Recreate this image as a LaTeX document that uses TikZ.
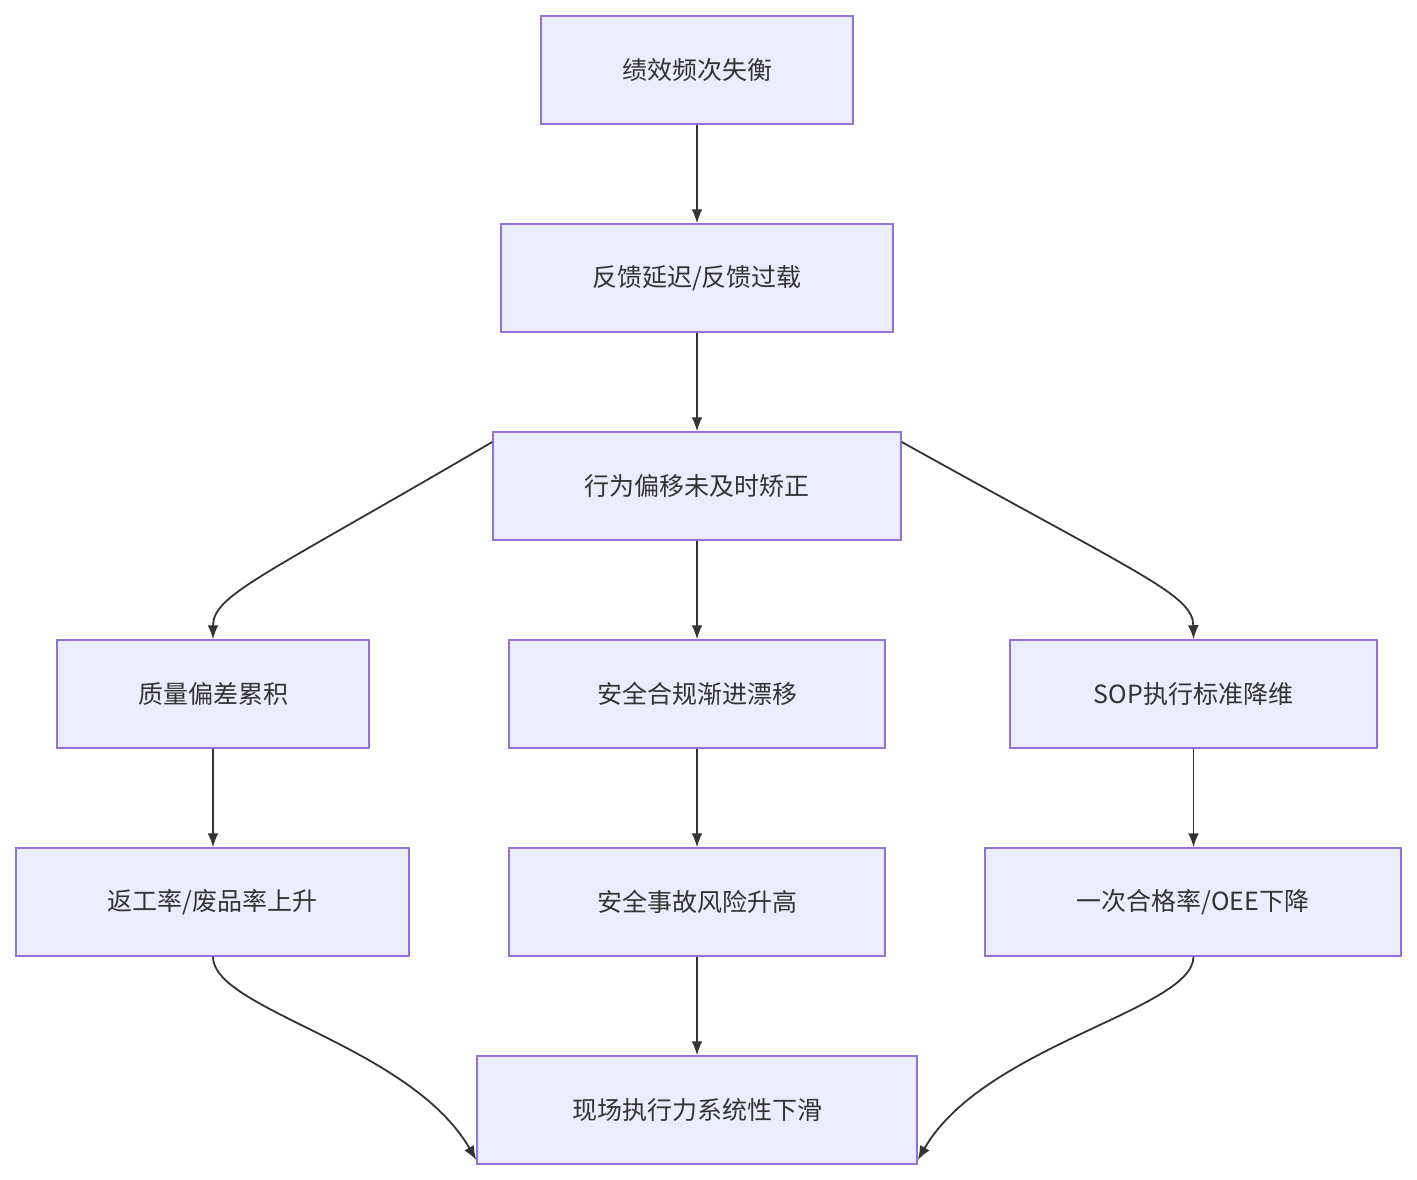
\documentclass[tikz,border=0pt]{standalone}
\usepackage{fontspec}
\setmainfont{Noto Sans CJK SC}
\usetikzlibrary{arrows.meta}
\definecolor{nfill}{HTML}{ECECFF}
\definecolor{nline}{HTML}{9370DB}
\definecolor{aline}{HTML}{333333}
\begin{document}
\begin{tikzpicture}[x=1pt,y=-1pt,
  box/.style={draw=nline,fill=nfill,line width=1.5pt,minimum height=108pt,inner sep=0pt,font=\fontsize{25}{30}\selectfont,text=aline},
  arr/.style={draw=aline,line width=1.8pt,-{Latex[length=14pt,width=11pt]}}]
\useasboundingbox (0,0) rectangle (1417,1180);
\node[box,minimum width=312pt] (A) at (697,70) {绩效频次失衡};
\node[box,minimum width=392pt] (B) at (697,278) {反馈延迟/反馈过载};
\node[box,minimum width=408pt] (C) at (697,486) {行为偏移未及时矫正};
\node[box,minimum width=312pt] (D1) at (213,694) {质量偏差累积};
\node[box,minimum width=376pt] (D2) at (697,694) {安全合规渐进漂移};
\node[box,minimum width=367pt] (D3) at (1193.5,694) {SOP执行标准降维};
\node[box,minimum width=393pt] (E1) at (212.5,902) {返工率/废品率上升};
\node[box,minimum width=376pt] (E2) at (697,902) {安全事故风险升高};
\node[box,minimum width=416pt] (E3) at (1193,902) {一次合格率/OEE下降};
\node[box,minimum width=440pt] (F) at (697,1110) {现场执行力系统性下滑};
\draw[arr] (A) -- (B);
\draw[arr] (B) -- (C);
\draw[arr] (C) -- (D2);
\draw[arr] ([yshift=44pt]C.west) .. controls (260,578) and (213,595) .. (D1.north);
\draw[arr] ([yshift=44pt]C.east) .. controls (1146,578) and (1193,595) .. (D3.north);
\draw[arr] (D1) -- (E1.north -| D1);
\draw[arr] (D2) -- (E2);
\draw[arr] (D3) -- (E3.north -| D3);
\draw[arr] (E2) -- (F);
\draw[arr] (E1.south -| D1) .. controls (213,1010) and (410,1045) .. ([yshift=-50pt]F.west);
\draw[arr] (E3.south -| D3) .. controls (1193,1010) and (984,1045) .. ([yshift=-50pt]F.east);
\end{tikzpicture}
\end{document}
